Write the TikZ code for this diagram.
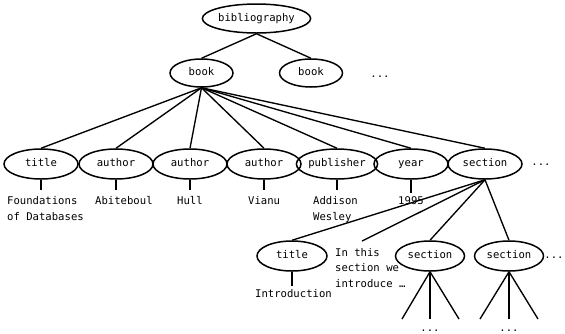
\documentclass[tikz,border=0pt]{standalone}
\usepackage{fontspec}
\setmainfont{DejaVu Sans Mono}
\usetikzlibrary{shapes.geometric}
\begin{document}
\begin{tikzpicture}[x=1pt,y=-1pt,
  el/.style={ellipse,draw,line width=1.5pt,inner sep=0pt,minimum width=74pt,minimum height=30pt,text height=8pt,text depth=2.4pt,font=\fontsize{10.6}{12}\selectfont},
  lbl/.style={inner sep=0pt,font=\fontsize{10.6}{16}\selectfont,align=left},
  edge/.style={line width=1.35pt},
  dots/.style={inner sep=0pt,font=\fontsize{10.6}{12}\selectfont}]
\useasboundingbox[fill=white] (0,0) rectangle (565,333);
% top
\node[el,minimum width=83pt,minimum height=29pt] (bib) at (256.5,18.5) {bibliography};
\node[el,minimum width=63pt,minimum height=28pt] (book1) at (201.5,73) {book};
\node[el,minimum width=63pt,minimum height=28pt] (book2) at (311,73) {book};
\node[dots,anchor=base] (d1) at (380,77.5) {...};
\draw[edge] (bib.south) -- (book1.north);
\draw[edge] (bib.south) -- (book2.north);
% row 3
\node[el] (ti) at (41,164) {title};
\node[el] (a1) at (116,164) {author};
\node[el] (a2) at (190,164) {author};
\node[el] (a3) at (264,164) {author};
\node[el] (pu) at (337,164) {publisher};
\node[el] (ye) at (411,164) {year};
\node[el] (se) at (485,164) {section};
\node[dots,anchor=base] (d2) at (541,165) {...};
\foreach \n in {ti,a1,a2,a3,pu,ye,se} \draw[edge] (book1.south) -- (\n.north);
% leaves
\coordinate (eti) at (41,190);
\coordinate (ea1) at (116,190);
\coordinate (ea2) at (190,190);
\coordinate (ea3) at (264,190);
\coordinate (epu) at (337,190);
\coordinate (eye) at (411,193);
\foreach \n in {ti,a1,a2,a3,pu,ye} \draw[edge] (\n.south) -- (e\n);
\node[lbl,anchor=north west] (lti) at (7,196) {Foundations\\of Databases};
\node[lbl,anchor=base west] (la1) at (95,204) {Abiteboul};
\node[lbl,anchor=base west] (la2) at (177,204) {Hull};
\node[lbl,anchor=base west] (la3) at (248,204) {Vianu};
\node[lbl,anchor=north west] (lpu) at (313,196) {Addison\\Wesley};
\node[lbl,anchor=base] (lye) at (411,204) {1995};
% section subtree
\node[el,minimum width=70pt] (t2) at (292,256) {title};
\node[el,minimum width=69pt] (s2) at (430,256) {section};
\node[el,minimum width=69pt] (s3) at (509,256) {section};
\node[dots,anchor=base] (d3) at (554,258) {...};
\node[lbl,anchor=north west,font=\fontsize{10.6}{15.5}\selectfont] (txt) at (335,248) {In this\\section we\\introduce …};
\coordinate (etx) at (362,241);
\draw[edge] (se.south) -- (t2.north);
\draw[edge] (se.south) -- (etx);
\draw[edge] (se.south) -- (s2.north);
\draw[edge] (se.south) -- (s3.north);
\coordinate (et2) at (292,286);
\draw[edge] (t2.south) -- (et2);
\node[lbl,anchor=base west] (lt2) at (255,297) {Introduction};
% bottom fans
\coordinate (s2a) at (402,319);
\coordinate (s2b) at (430,319);
\coordinate (s2c) at (459,319);
\coordinate (s3a) at (480,319);
\coordinate (s3b) at (509,319);
\coordinate (s3c) at (538,319);
\foreach \c in {s2a,s2b,s2c} \draw[edge] (s2.south) -- (\c);
\foreach \c in {s3a,s3b,s3c} \draw[edge] (s3.south) -- (\c);
\node[dots,anchor=base] (d4) at (430,331.5) {...};
\node[dots,anchor=base] (d5) at (509,331.5) {...};
\end{tikzpicture}
\end{document}
